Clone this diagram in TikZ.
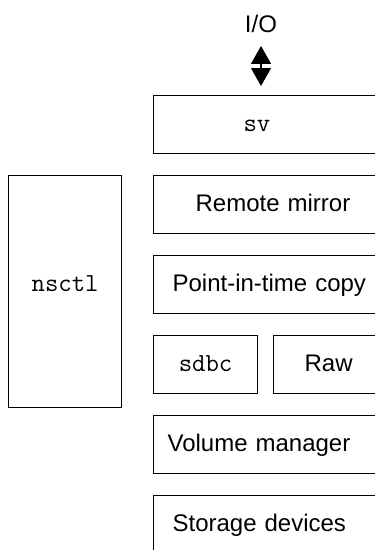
\documentclass[tikz,border=0pt]{standalone}
\usepackage{fontspec}
\setsansfont{Liberation Sans}
\usetikzlibrary{arrows.meta}
\usetikzlibrary{positioning}

\newcommand{\modname}[1]{{\fontsize{26}{28}\ttfamily #1}}

\tikzset{
  layer/.style={draw,rectangle,line width=1.2pt,anchor=north west,minimum height=58pt,
    inner xsep=0pt,inner ysep=0pt,text width=240pt,align=left,
    text height=17.4pt,text depth=4pt,font=\fontsize{24}{28}\sffamily},
  halflayer/.style={layer,align=center},
  ctlbox/.style={draw,rectangle,line width=1.2pt,anchor=north west,minimum width=113pt,
    minimum height=232pt,inner sep=0pt,text height=12pt,text depth=12pt},
  iolabel/.style={anchor=base,inner sep=0pt,font=\fontsize{24}{28}\sffamily},
  ioarrow/.style={line width=1.2pt,
    {Triangle[width=20pt,length=18pt]}-{Triangle[width=20pt,length=18pt]}}
}

\begin{document}
\begin{tikzpicture}[x=1pt,y=-1pt]
  \useasboundingbox (0,0) rectangle (375,550);

  \node [iolabel] (io) at (261,32) {I/O};

  % stack on the right
  \node [layer] (sv)      at (153,95)  {\hspace*{90pt}\modname{sv}};
  \node [layer] (rmirror) at (153,175) {\hspace*{42pt}Remote mirror};
  \node [layer] (pitcopy) at (153,255) {\hspace*{19pt}Point-in-time copy};
  \node [halflayer,text width=104pt] (sdbc) at (153,335) {\modname{sdbc}};
  \node [halflayer,text width=110pt] (raw)  at (273,335) {Raw};
  \node [layer] (volmgr)  at (153,415) {\hspace*{14pt}Volume manager};
  \node [layer] (storage) at (153,495) {\hspace*{19pt}Storage devices};

  % control box on the left
  \node [ctlbox] (nsctl) at (8,175) {\modname{nsctl}};

  \draw [ioarrow,shorten <=13.5pt,shorten >=9pt] (io.south) -- (io.south |- sv.north);

\end{tikzpicture}
\end{document}
